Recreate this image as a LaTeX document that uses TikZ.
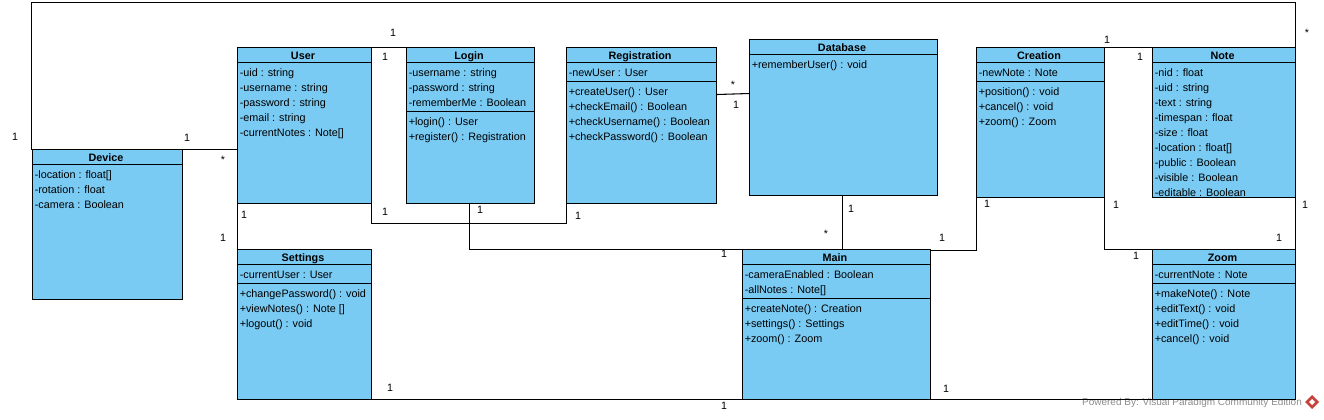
\documentclass[tikz,border=0pt]{standalone}
\usepackage{fontspec}
\setmainfont{Liberation Sans}
\definecolor{classblue}{HTML}{7ACBF4}
\definecolor{logored}{HTML}{C8423C}
\def\px{0.75pt}
\tikzset{
	classbox/.style = {draw=black, fill=classblue, line width=0.8pt, inner sep=0pt, outer sep=0pt, anchor=north west},
	classtitle/.style = {inner sep=0pt, anchor=base, font=\fontsize{8.1}{10}\selectfont\bfseries},
	classtext/.style = {inner sep=0pt, anchor=north west, align=left, font=\fontsize{8.1}{11.25}\selectfont},
	mult/.style = {inner sep=0pt, font=\fontsize{8}{10}\selectfont},
	assoc/.style = {draw=black, line width=0.8pt}
}
\begin{document}
\begin{tikzpicture}[x=0.75pt,y=-0.75pt]
	\useasboundingbox (0,0) rectangle (1324,419);
	% watermark
	\node (Powered) at (1192,403) [text=black!45, inner sep=0pt, font=\fontsize{7.5}{9}\selectfont] {Powered By: Visual Paradigm Community Edition};
	\fill[logored] (1312,395) -- (1319,402) -- (1312,409) -- (1305,402) -- cycle;
	\fill[white] (1312,399) -- (1315,402) -- (1312,405) -- (1309,402) -- cycle;

	% classes
	\node (Device) at (32.5,149.5)    [classbox, minimum width=150*\px, minimum height=150*\px] {};
	\node (User) at (237.5,47.5)      [classbox, minimum width=134*\px, minimum height=156*\px] {};
	\node (Login) at (406.5,47.5)     [classbox, minimum width=128*\px, minimum height=156*\px] {};
	\node (Registration) at (566.5,47.5) [classbox, minimum width=150*\px, minimum height=156*\px] {};
	\node (Database) at (749.5,39.5)  [classbox, minimum width=188*\px, minimum height=156*\px] {};
	\node (Creation) at (976.5,47.5)  [classbox, minimum width=128*\px, minimum height=150*\px] {};
	\node (Note) at (1152.5,47.5)     [classbox, minimum width=143*\px, minimum height=150*\px] {};
	\node (Settings) at (237.5,249.5) [classbox, minimum width=134*\px, minimum height=150*\px] {};
	\node (Main) at (742.5,249.5)     [classbox, minimum width=188*\px, minimum height=150*\px] {};
	\node (Zoom) at (1152.5,249.5)    [classbox, minimum width=143*\px, minimum height=150*\px] {};

	% compartments
	\foreach \cls/\dy in {Device/15, User/15, Login/15, Login/64, Registration/15, Registration/34,
		Database/15, Creation/15, Creation/34, Note/15, Settings/15, Settings/34,
		Main/15, Main/49, Zoom/15, Zoom/34}
		\draw[line width=0.8pt] ([yshift=-\dy*\px]\cls.north west) -- ([yshift=-\dy*\px]\cls.north east);

	\foreach \cls in {Device, User, Login, Registration, Database, Creation, Note, Settings, Main, Zoom}
		\node (\cls Title) at ([shift={(-1.5,11.5)}]\cls.north) [classtitle] {\cls};

	\node (DeviceAttr) at ([shift={(2,21)}]Device.north west) [classtext]
		{-location : float[]\\-rotation : float\\-camera : Boolean};
	\node (UserAttr) at ([shift={(2,21)}]User.north west) [classtext]
		{-uid : string\\-username : string\\-password : string\\-email : string\\-currentNotes : Note[]};
	\node (LoginAttr) at ([shift={(2,21)}]Login.north west) [classtext]
		{-username : string\\-password : string\\-rememberMe : Boolean};
	\node (LoginOper) at ([shift={(2,70)}]Login.north west) [classtext]
		{+login() : User\\+register() : Registration};
	\node (RegistrationAttr) at ([shift={(2,21)}]Registration.north west) [classtext]
		{-newUser : User};
	\node (RegistrationOper) at ([shift={(2,40)}]Registration.north west) [classtext]
		{+createUser() : User\\+checkEmail() : Boolean\\+checkUsername() : Boolean\\+checkPassword() : Boolean};
	\node (DatabaseOper) at ([shift={(2,21)}]Database.north west) [classtext]
		{+rememberUser() : void};
	\node (CreationAttr) at ([shift={(2,21)}]Creation.north west) [classtext]
		{-newNote : Note};
	\node (CreationOper) at ([shift={(2,40)}]Creation.north west) [classtext]
		{+position() : void\\+cancel() : void\\+zoom() : Zoom};
	\node (NoteAttr) at ([shift={(2,21)}]Note.north west) [classtext]
		{-nid : float\\-uid : string\\-text : string\\-timespan : float\\-size : float\\-location : float[]\\-public : Boolean\\-visible : Boolean\\-editable : Boolean};
	\node (SettingsAttr) at ([shift={(2,21)}]Settings.north west) [classtext]
		{-currentUser : User};
	\node (SettingsOper) at ([shift={(2,40)}]Settings.north west) [classtext]
		{+changePassword() : void\\+viewNotes() : Note []\\+logout() : void};
	\node (MainAttr) at ([shift={(2,21)}]Main.north west) [classtext]
		{-cameraEnabled : Boolean\\-allNotes : Note[]};
	\node (MainOper) at ([shift={(2,55)}]Main.north west) [classtext]
		{+createNote() : Creation\\+settings() : Settings\\+zoom() : Zoom};
	\node (ZoomAttr) at ([shift={(2,21)}]Zoom.north west) [classtext]
		{-currentNote : Note};
	\node (ZoomOper) at ([shift={(2,40)}]Zoom.north west) [classtext]
		{+makeNote() : Note\\+editText() : void\\+editTime() : void\\+cancel() : void};

	% associations
	\coordinate (DeviceUp) at (31.5,149.5);
	\coordinate (TopLeft) at (31.5,2.5);
	\coordinate (TopRight) at (1295.5,2.5);
	\coordinate (MainTop) at (842.5,249.5);
	\coordinate (DatabaseLow) at (842.5,195.5);
	\coordinate (LoginLow) at (469.5,203.5);
	\coordinate (RegLeft) at (717,94.5);
	\coordinate (DataLeft) at (749.5,93.5);
	\coordinate (ElbowUser) at (371.5,223.5);
	\coordinate (ElbowReg) at (566.5,223.5);
	\coordinate (MainRight) at (930.5,250.5);
	\coordinate (ElbowCreation) at (976.5,250.5);
	\coordinate (ElbowZoom) at (1104.5,249.5);

	\draw[assoc] (DeviceUp) -- (TopLeft) -- (TopRight) -- (Note.north east);
	\draw[assoc] (DeviceUp) -- (User.west |- DeviceUp);
	\draw[assoc] (User.north east) -- (Login.north west);
	\draw[assoc] (User.south east) -- (ElbowUser) -- (ElbowReg) -- (Registration.south west);
	\draw[assoc] (LoginLow) |- (Main.north west);
	\draw[assoc] (RegLeft) -- (DataLeft);
	\draw[assoc] (DatabaseLow) -- (MainTop);
	\draw[assoc] (MainRight) -- (ElbowCreation) -- (Creation.south west);
	\draw[assoc] (Creation.north east) -- (Note.north west);
	\draw[assoc] (Creation.south east) -- (ElbowZoom) -- (Zoom.north west);
	\draw[assoc] (Note.south east) -- (Zoom.north east);
	\draw[assoc] (User.south west) -- (Settings.north west);
	\draw[assoc] (Settings.south east) -- (Main.south west);
	\draw[assoc] (Main.south east) -- (Zoom.south west);

	% multiplicities
	\foreach \x/\y/\t [count=\n] in {15/137/1, 187/138/1, 223/160/*, 393/33/1, 385/57/1, 244/215/1, 223/238/1,
		385/212/1, 480/210/1, 578/216/1, 733/85/*, 736/105/1, 851/209/1, 826/234/*, 724/254/1, 942/238/1,
		987/204/1, 1107/40/1, 1140/57/1, 1116/205/1, 1305/205/1, 1307/33/*, 1279/238/1, 1136/256/1,
		390/388/1, 724/406/1, 946/389/1}
		\node (mult\n) at (\x,\y) [mult] {\t};
\end{tikzpicture}
\end{document}
